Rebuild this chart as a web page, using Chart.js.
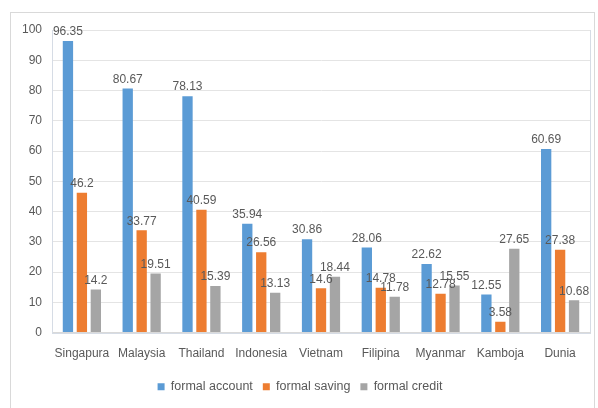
<!DOCTYPE html>
<html><head><meta charset="utf-8">
<script src="https://cdn.jsdelivr.net/npm/chart.js@4/dist/chart.umd.min.js"></script>
<style>html,body{margin:0;padding:0;background:#fff}#wrap{width:598px;height:408px;position:relative}</style>
</head><body><div id="wrap"><canvas id="c" width="598" height="408"></canvas></div>
<script>
const categories = ["Singapura","Malaysia","Thailand","Indonesia","Vietnam","Filipina","Myanmar","Kamboja","Dunia"];
const formalAccount = [96.35,80.67,78.13,35.94,30.86,28.06,22.62,12.55,60.69];
const formalSaving = [46.2,33.77,40.59,26.56,14.6,14.78,12.78,3.58,27.38];
const formalCredit = [14.2,19.51,15.39,13.13,18.44,11.78,15.55,27.65,10.68];
const seriesNames = ["formal account","formal saving","formal credit"];
const yTicks = [0,10,20,30,40,50,60,70,80,90,100];

const FONT = "'Liberation Sans', Arial, sans-serif";
const frame = {
  id:'frame',
  beforeDraw(chart){
    const ctx = chart.ctx;
    ctx.save();
    ctx.fillStyle='#fff';ctx.fillRect(0,0,chart.width,chart.height);
    ctx.strokeStyle='#d9d9d9';ctx.lineWidth=1;
    ctx.strokeRect(10.5,12.5,chart.width-14,chart.height);
    const a = chart.chartArea;
    ctx.strokeStyle='#d6dce5';
    ctx.strokeRect(Math.round(a.left)+0.5,Math.round(a.top)+0.5,Math.round(a.right-a.left),Math.round(a.bottom-a.top));
    ctx.restore();
  }
};
const labels = {
  id:'labels',
  afterDatasetsDraw(chart){
    const ctx = chart.ctx;
    ctx.save();
    ctx.font = "12px "+FONT;
    ctx.fillStyle = '#595959';
    ctx.textAlign='center';ctx.textBaseline='bottom';
    chart.data.datasets.forEach((ds,i)=>{
      const meta = chart.getDatasetMeta(i);
      meta.data.forEach((bar,j)=>{
        ctx.fillText(String(ds.data[j]), bar.x, bar.y-3);
      });
    });
    ctx.restore();
  }
};
new Chart(document.getElementById('c'),{
  type:'bar',
  data:{labels:categories,datasets:[
    {label:seriesNames[0],data:formalAccount,backgroundColor:'#5b9bd5'},
    {label:seriesNames[1],data:formalSaving,backgroundColor:'#ed7d31'},
    {label:seriesNames[2],data:formalCredit,backgroundColor:'#a5a5a5'}
  ]},
  options:{
    responsive:false,animation:false,
    datasets:{bar:{barPercentage:0.74,categoryPercentage:0.7}},
    layout:{padding:{top:30,right:8,left:10,bottom:5}},
    plugins:{
      legend:{position:'bottom',labels:{boxWidth:7,boxHeight:7,padding:10,color:'#595959',font:{family:FONT,size:12.5}}},
      tooltip:{enabled:false}
    },
    scales:{
      x:{grid:{display:false},border:{color:'#d9d9d9'},ticks:{color:'#595959',font:{family:FONT,size:12},padding:6,maxRotation:0,autoSkip:false},
         afterFit(s){s.height=38;}},
      y:{min:0,max:100,afterBuildTicks(s){s.ticks=yTicks.map(v=>({value:v}));},
         grid:{color:'#e4e4e4',drawTicks:false},border:{color:'#d6dce5'},
         ticks:{color:'#595959',font:{family:FONT,size:12},padding:10},
         afterFit(s){s.width=42;}}
    }
  },
  plugins:[frame,labels]
});
</script></body></html>
